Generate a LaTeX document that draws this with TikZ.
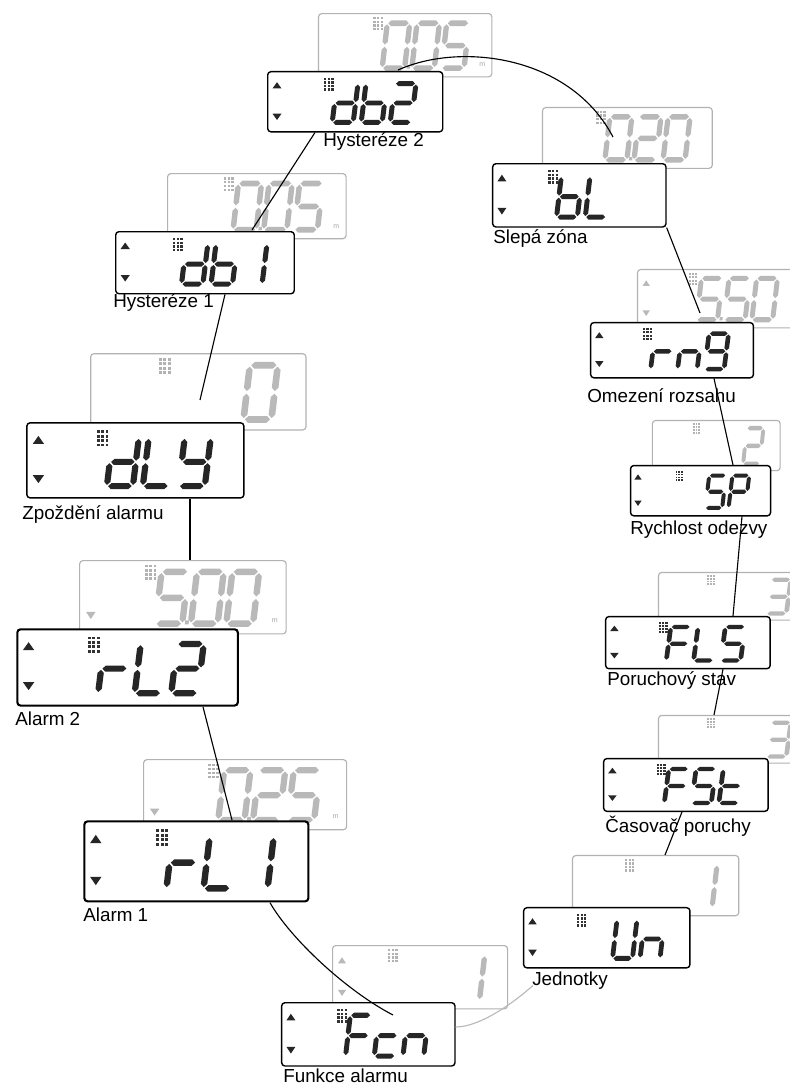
\documentclass[tikz,border=0pt]{standalone}
\usepackage{fontspec}
\setmainfont{Liberation Sans}
\usetikzlibrary{positioning}

% seven-segment pieces (local units, y pointing down)
\newcommand\lcdhseg[3]{\fill (#1,#3) -- (#1+2.5,#3-2.5) -- (#2-2.5,#3-2.5) -- (#2,#3) -- (#2-2.5,#3+2.5) -- (#1+2.5,#3+2.5) -- cycle;}
\newcommand\lcdvseg[3]{\fill (#1,#2) -- (#1+2.5,#2+2.5) -- (#1+2.5,#3-2.5) -- (#1,#3) -- (#1-2.5,#3-2.5) -- (#1-2.5,#2+2.5) -- cycle;}

\pgfkeys{/lcd/seg/.cd,
  a/.code={\lcdhseg{1}{20}{0}},
  b/.code={\lcdvseg{21}{1}{19}},
  c/.code={\lcdvseg{21}{21}{39}},
  d/.code={\lcdhseg{1}{20}{40}},
  e/.code={\lcdvseg{0}{21}{39}},
  f/.code={\lcdvseg{0}{1}{19}},
  g/.code={\lcdhseg{1}{20}{20}},
  p/.code={\fill (23,37.5) rectangle (26,40.5);},
  none/.code={}}

\pgfkeys{/lcd/char/.cd,
  x/.initial={none},
  0/.initial={a,b,c,d,e,f},
  0p/.initial={a,b,c,d,e,f,p},
  1/.initial={b,c},
  2/.initial={a,b,g,e,d},
  3/.initial={a,b,g,c,d},
  5/.initial={a,f,g,c,d},
  5p/.initial={a,f,g,c,d,p},
  b/.initial={f,e,d,c,g},
  d/.initial={b,c,d,e,g},
  L/.initial={f,e,d},
  r/.initial={e,g},
  n/.initial={e,g,c},
  g/.initial={a,b,c,d,f,g},
  S/.initial={a,f,g,c,d},
  P/.initial={a,b,f,g,e},
  F/.initial={a,f,g,e},
  c/.initial={g,e,d},
  t/.initial={f,e,d,g},
  U/.initial={b,c,d,e,f},
  Y/.initial={b,f,g,c,d}}

\pgfkeys{/lcd/extra/.cd,
  none/.code={},
  up/.code={\fill[gray!55] (6,18) -- (14,18) -- (10,12) -- cycle;},
  down/.code={\fill[gray!55] (6,44) -- (14,44) -- (10,50) -- cycle;},
  unit/.code={\node[font=\fontsize{5}{5}\selectfont, text=gray!70, inner sep=0pt] (-unit) at (166,51) {m};}}

\tikzset{
  lcdframe/.style={draw, fill=white, rounded corners=0.8mm, line width=1pt,
    minimum width=43.75mm, minimum height=15.5mm, inner sep=0pt,
    anchor=north west, transform shape},
  lcdbackframe/.style={lcdframe, draw=gray!60, line width=0.8pt},
  lcdseg/.style={fill=black!85},
  lcdghost/.style={fill=gray!55},
  link/.style={line width=0.8pt},
  lbl/.style={font=\fontsize{13.4}{16}\selectfont, inner sep=0pt, anchor=west},
  pics/lcdfront/.style={code={
    \node[lcdframe] (-box) at (0,0) {};
    \fill[black!85] (5.5,18) -- (14.5,18) -- (10,11.5) -- cycle;
    \fill[black!85] (5.5,44) -- (14.5,44) -- (10,50.5) -- cycle;
    \foreach \u in {0,1,2} \foreach \v in {0,...,3}
      \fill[black!80] (57+3.6*\u,7+3.6*\v) rectangle ++(2.3,2.3);
    \foreach \ch [count=\i] in {#1} {
      \begin{scope}[shift={(41+29*\i,13)}, xslant=0.12, lcdseg]
        \pgfkeysgetvalue{/lcd/char/\ch}{\segs}
        \foreach \sg in \segs {\pgfkeys{/lcd/seg/\sg}}
      \end{scope}}
  }},
  pics/lcdback/.style 2 args={code={
    \node[lcdbackframe] (-box) at (0,0) {};
    \foreach \u in {0,1,2} \foreach \v in {0,...,3}
      \fill[gray!60] (56+3.6*\u,4+3.6*\v) rectangle ++(2.3,2.3);
    \foreach \ch [count=\i] in {#1} {
      \begin{scope}[shift={(40+30*\i,10)}, xscale=1.08, yscale=1.1, xslant=0.12, lcdghost]
        \pgfkeysgetvalue{/lcd/char/\ch}{\segs}
        \foreach \sg in \segs {\pgfkeys{/lcd/seg/\sg}}
      \end{scope}}
    \foreach \ex in {#2} {\pgfkeys{/lcd/extra/\ex}}
  }}
}

\begin{document}
\begin{tikzpicture}[x=0.25mm, y=-0.25mm]

\useasboundingbox (0,0) rectangle (790,1088);
\fill[white] (0,0) rectangle (790,1088);
\clip (0,0) rectangle (790,1088);

%--- LEFT SIDE ---
\pic[xscale=0.99, yscale=1.02] (dbtwobk) at (318,13) {lcdback={0p,0,5}{unit}};
\pic[xscale=1.0, yscale=0.97] (dbtwo) at (267,71) {lcdfront={d,b,2}};

\pic[xscale=1.02, yscale=1.05] (dbonebk) at (167,173) {lcdback={0p,0,5}{unit}};
\pic[xscale=1.02, yscale=1.0] (dbone) at (115,231) {lcdfront={d,b,1}};

\pic[xscale=1.23, yscale=1.23] (dlybk) at (90,353) {lcdback={x,x,0}{none}};
\pic[xscale=1.24, yscale=1.21] (dly) at (26,422) {lcdfront={d,L,Y}};

\pic[xscale=1.18, yscale=1.18] (rltwobk) at (79,560) {lcdback={5p,0,0}{down,unit}};
\pic[xscale=1.26, yscale=1.23, lcdframe/.append style={line width=1.5pt}] (rltwo) at (16,628) {lcdfront={r,L,2}};

\pic[xscale=1.16, yscale=1.13] (rlonebk) at (143,759) {lcdback={0p,2,5}{down,unit}};
\pic[xscale=1.28, yscale=1.29, lcdframe/.append style={line width=1.5pt}] (rlone) at (83,820) {lcdfront={r,L,1}};

\pic[xscale=1.0, yscale=1.02] (fcnbk) at (332,945) {lcdback={x,x,1}{up,down}};
\pic[xscale=0.99, yscale=1.02] (fcn) at (281,1002) {lcdfront={F,c,n}};

%--- RIGHT SIDE ---
\pic[xscale=0.97, yscale=0.98] (blindbk) at (542,107) {lcdback={0p,2,0}{none}};
\pic[xscale=0.99, yscale=1.02] (blind) at (492,163) {lcdfront={b,L,x}};

\pic[xscale=0.92, yscale=0.94] (rngbk) at (637,269) {lcdback={5p,5,0}{up,down}};
\pic[xscale=0.93, yscale=0.89] (rng) at (590,322) {lcdfront={r,n,g}};

\pic[xscale=0.73, yscale=0.81] (spbk) at (652,420) {lcdback={x,x,2}{none}};
\pic[xscale=0.8, yscale=0.81] (sp) at (630,465) {lcdfront={x,S,P}};

\pic[xscale=0.87, yscale=0.77] (flsbk) at (658,572) {lcdback={x,x,3}{none}};
\pic[xscale=0.94, yscale=0.84] (fls) at (605,616) {lcdfront={F,L,S}};

\pic[xscale=0.87, yscale=0.77] (fstbk) at (658,715) {lcdback={x,x,3}{none}};
\pic[xscale=0.94, yscale=0.85] (fst) at (603,758) {lcdfront={F,S,t}};

\pic[xscale=0.95, yscale=0.97] (unbk) at (572,855) {lcdback={x,x,1}{none}};
\pic[xscale=0.95, yscale=0.97] (un) at (523,907) {lcdfront={x,U,n}};

%--- LABELS ---
\node[lbl] (dbtwo-lbl) at ([shift={(56,9)}]dbtwo-box.south west) {Hysteréze 2};
\node[lbl] (dbone-lbl) at ([shift={(-2,8)}]dbone-box.south west) {Hysteréze 1};
\node[lbl] (dly-lbl) at ([shift={(-4,16)}]dly-box.south west) {Zpoždění alarmu};
\node[lbl] (rltwo-lbl) at ([shift={(-1,12)}]rltwo-box.south west) {Alarm 2};
\node[lbl] (rlone-lbl) at ([shift={(0,12)}]rlone-box.south west) {Alarm 1};
\node[lbl] (fcn-lbl) at ([shift={(2,9)}]fcn-box.south west) {Funkce alarmu};
\node[lbl] (blind-lbl) at ([shift={(1,11)}]blind-box.south west) {Slepá zóna};
\node[lbl] (rng-lbl) at ([shift={(-3,17)}]rng-box.south west) {Omezení rozsahu};
\node[lbl] (sp-lbl) at ([shift={(0,13)}]sp-box.south west) {Rychlost odezvy};
\node[lbl] (fls-lbl) at ([shift={(2,11)}]fls-box.south west) {Poruchový stav};
\node[lbl] (fst-lbl) at ([shift={(2,14)}]fst-box.south west) {Časovač poruchy};
\node[lbl] (un-lbl) at ([shift={(9,12)}]un-box.south west) {Jednotky};

%--- CONNECTING LINE ---
\draw[link] ([shift={(80,57)}]dbtwobk-box.north west)
  .. controls ([shift={(142,29)}]dbtwobk-box.north west) and ([shift={(28,-52)}]blindbk-box.north west)
  .. ([shift={(71,30)}]blindbk-box.north west);
\draw[link] (blind-box.south east) -- ([shift={(63,44)}]rngbk-box.north west);
\draw[link] ([shift={(124,0)}]rng-box.south west) -- ([shift={(103,0)}]sp-box.north west);
\draw[link] ([shift={(112,0)}]sp-box.south west) -- ([shift={(128,0)}]fls-box.north west);
\draw[link] ([shift={(118,0)}]fls-box.south west) -- ([shift={(56,0)}]fstbk-box.north west);
\draw[link] ([shift={(79,0)}]fst-box.south west) -- ([shift={(93,0)}]unbk-box.north west);
\draw[link, gray!55] ([shift={(0,25)}]fcn-box.north east)
  .. controls ([shift={(25,25)}]fcn-box.north east) and ([shift={(-17,21)}]un-lbl.west)
  .. ([shift={(1,5)}]un-lbl.west);
\draw[link] ([shift={(187,0)}]rlone-box.south west)
  .. controls ([shift={(207,35)}]rlone-box.south west) and ([shift={(64,-12)}]fcn-box.north west)
  .. ([shift={(112,13)}]fcn-box.north west);
\draw[link] ([shift={(187,0)}]rltwo-box.south west) -- ([shift={(149,0)}]rlone-box.north west);
\draw[link] ([shift={(164,0)}]dly-box.south west) -- ([shift={(111,0)}]rltwobk-box.north west);
\draw[link] ([shift={(110,0)}]dbone-box.south west) -- ([shift={(110,47)}]dlybk-box.north west);
\draw[link] ([shift={(48,0)}]dbtwo-box.south west) -- ([shift={(85,57)}]dbonebk-box.north west);

\end{tikzpicture}
\end{document}
